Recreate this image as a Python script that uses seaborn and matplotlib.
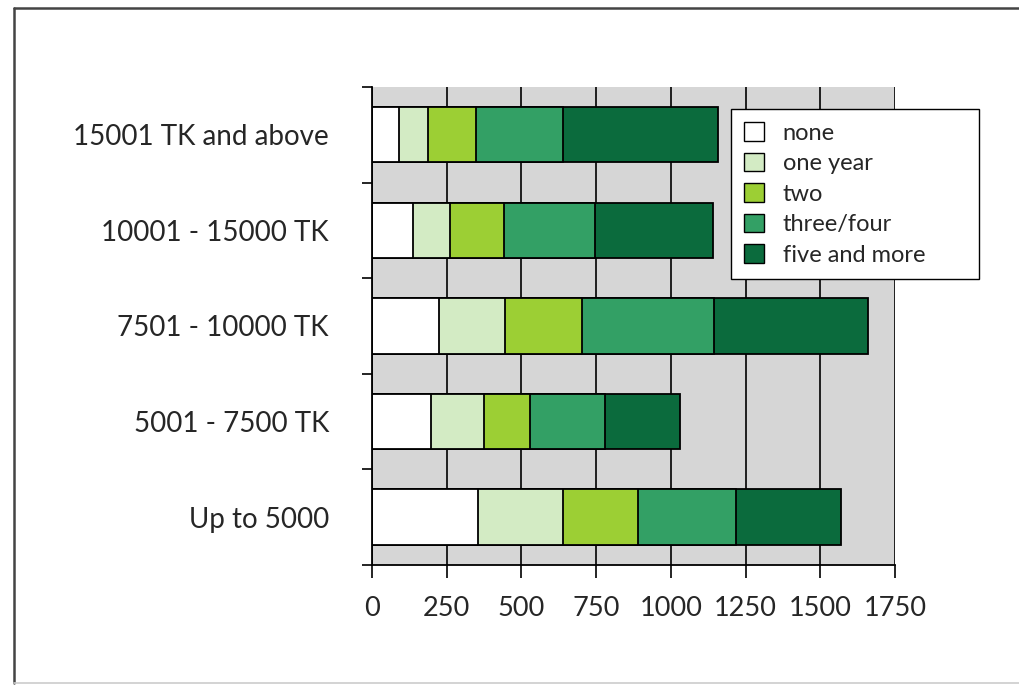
import numpy as np
import pandas as pd
import matplotlib
matplotlib.use("Agg")
import matplotlib.pyplot as plt
from matplotlib.patches import Patch
from matplotlib.lines import Line2D
import seaborn as sns

# data
incomes = ["15001 TK and above", "10001 - 15000 TK", "7501 - 10000 TK",
           "5001 - 7500 TK", "Up to 5000"]
schooling = ["none", "one year", "two", "three/four", "five and more"]
none_vals = [90, 138, 224, 196, 355]
one_year_vals = [98, 123, 222, 178, 284]
two_vals = [160, 182, 256, 155, 251]
three_four_vals = [291, 304, 441, 251, 328]
five_more_vals = [520, 393, 517, 252, 350]
x_ticks = [0, 250, 500, 750, 1000, 1250, 1500, 1750]

colors = ["#ffffff", "#d3ebc4", "#9ccf34", "#33a065", "#0b6b3d"]

df = pd.DataFrame({
    "income": incomes,
    "none": none_vals,
    "one year": one_year_vals,
    "two": two_vals,
    "three/four": three_four_vals,
    "five and more": five_more_vals,
})
cum = df[schooling].cumsum(axis=1)
cum["income"] = df["income"]

sns.set_style("white")
plt.rcParams["font.family"] = ["Lato", "DejaVu Sans"]

fig = plt.figure(figsize=(10.19, 6.88), dpi=100)
ax = fig.add_axes([0.3651, 0.1788, 0.5132, 0.6948])
ax.set_facecolor("#d6d6d6")

# stacked bars: draw cumulative totals from the outermost segment inwards
for name, col in reversed(list(zip(schooling, colors))):
    sns.barplot(data=cum, x=name, y="income", order=incomes, orient="h",
                color=col, saturation=1, width=0.58,
                edgecolor="black", linewidth=1.3, ax=ax)

ax.set_xlim(0, 1750)
ax.set_ylim(4.5, -0.5)
ax.set_xticks(x_ticks)
ax.set_xticklabels([str(t) for t in x_ticks], fontsize=19.5)
ax.set_yticks(range(len(incomes)))
ax.set_yticklabels(incomes, fontsize=20)
ax.set_yticks(np.arange(-0.5, 5, 1), minor=True)
ax.set_xlabel("")
ax.set_ylabel("")

ax.grid(axis="x", color="black", linewidth=1.2)
ax.grid(axis="y", visible=False)
ax.set_axisbelow(True)

ax.tick_params(axis="x", which="major", direction="out", length=9, width=1.2,
               pad=13, color="black", bottom=True)
ax.tick_params(axis="y", which="major", length=0, pad=31, left=True)
ax.tick_params(axis="y", which="minor", direction="out", length=7, width=1.2,
               color="black", left=True)

for s in ["top", "right"]:
    ax.spines[s].set_visible(False)
for s in ["left", "bottom"]:
    ax.spines[s].set_color("black")
    ax.spines[s].set_linewidth(1.3)

handles = [Patch(facecolor=c, edgecolor="black", linewidth=1.0) for c in colors]
leg = ax.legend(handles, schooling, loc="upper left",
                bbox_to_anchor=(0.686, 0.954, 0.474, 0.0), mode="expand",
                borderaxespad=0, fontsize=17, frameon=True, fancybox=False,
                handlelength=0.85, handleheight=0.85, handletextpad=0.8,
                labelspacing=0.38, borderpad=0.55)
leg.get_frame().set_edgecolor("black")
leg.get_frame().set_linewidth(1.0)
leg.get_frame().set_facecolor("white")
leg.get_frame().set_alpha(1)

# outer frame of the picture
fig.add_artist(Line2D([0.0137, 0.0137], [0.007, 0.988], color="#444444",
                      linewidth=1.8, transform=fig.transFigure))
fig.add_artist(Line2D([0.0137, 1.0], [0.988, 0.988], color="#444444",
                      linewidth=1.8, transform=fig.transFigure))
fig.add_artist(Line2D([0.0137, 1.0], [0.007, 0.007], color="#cccccc",
                      linewidth=1.2, transform=fig.transFigure))

fig.savefig("out.png", dpi=100)
